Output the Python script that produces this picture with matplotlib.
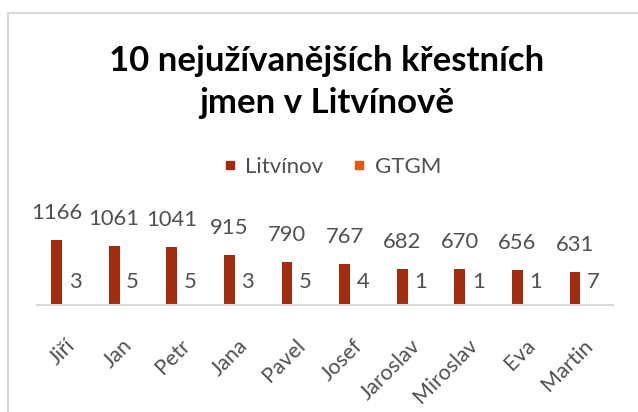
import numpy as np
import matplotlib.pyplot as plt
from matplotlib.lines import Line2D
from matplotlib.patches import Rectangle

plt.rcParams['font.family'] = ['Lato', 'DejaVu Sans']

names = ['Jiří', 'Jan', 'Petr', 'Jana', 'Pavel', 'Josef', 'Jaroslav', 'Miroslav', 'Eva', 'Martin']
litvinov = [1166, 1061, 1041, 915, 790, 767, 682, 670, 656, 631]
gtgm = [3, 5, 5, 3, 5, 4, 1, 1, 1, 7]

c_litv = '#a22b10'
c_gtgm = '#e05a16'
c_text = '#505050'


def main():
    fig = plt.figure(figsize=(6.38, 4.12), dpi=100)
    W, H = 638, 412

    # chart border (right and bottom run off the picture)
    fig.patches.append(Rectangle((8 / W, -0.1), 1.2, 1.1 - 13 / H, transform=fig.transFigure,
                                 fill=False, edgecolor='#d9d9d9', linewidth=1.5))

    ax = fig.add_axes([37 / W, 107 / H, 576 / W, 115 / H])
    x = np.arange(len(names))
    ax.bar(x - 0.16, litvinov, width=0.19, color=c_litv, zorder=2)
    ax.bar(x + 0.16, gtgm, width=0.19, color=c_gtgm, zorder=2)
    ax.set_xlim(-0.5, len(names) - 0.5)
    ax.set_ylim(69, 2008)

    for i in range(len(names)):
        ax.annotate(str(litvinov[i]), (x[i] - 0.16, litvinov[i]), xytext=(0, 19.5),
                    textcoords='offset points', ha='center', va='center',
                    fontsize=15.8, color=c_text)
        ax.annotate(str(gtgm[i]), (x[i] + 0.16, 69), xytext=(0, 16.5),
                    textcoords='offset points', ha='center', va='center',
                    fontsize=15.8, color=c_text)

    for s in ['top', 'right', 'left']:
        ax.spines[s].set_visible(False)
    ax.spines['bottom'].set_color('#d9d9d9')
    ax.spines['bottom'].set_linewidth(1.5)
    ax.set_yticks([])
    ax.set_xticks(x + 0.1)
    ax.set_xticklabels(names, rotation=45, ha='right', va='center', rotation_mode='anchor',
                       fontsize=15.5, color=c_text)
    ax.tick_params(axis='x', length=0, pad=27)

    fig.text(0.512, 1 - 45 / H, '10 nejužívanějších křestních\njmen v Litvínově',
             ha='center', va='top', fontsize=25, fontweight='bold', color='black',
             linespacing=1.4)

    handles = [Line2D([], [], marker='s', linestyle='none', markersize=6, color=c_litv),
               Line2D([], [], marker='s', linestyle='none', markersize=6, color=c_gtgm)]
    fig.legend(handles, ['Litvínov', 'GTGM'], loc='center', bbox_to_anchor=(331 / W, 1 - 167 / H),
               ncol=2, frameon=False, fontsize=16, labelcolor=c_text, handletextpad=0.3,
               columnspacing=1.2, handlelength=0.8)

    fig.savefig('out.png', dpi=100)


if __name__ == "__main__":
    main()
